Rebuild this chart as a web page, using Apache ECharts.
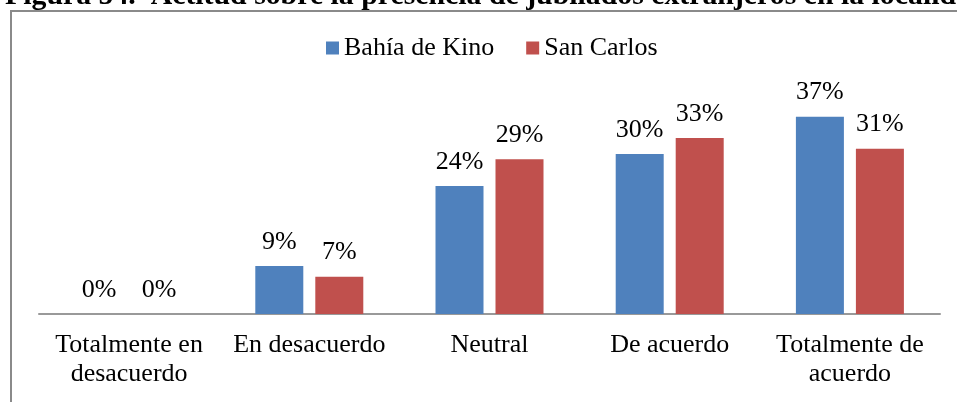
<!DOCTYPE html>
<html>
<head>
<meta charset="utf-8">
<script src="https://cdn.jsdelivr.net/npm/echarts@6/dist/echarts.min.js"></script>
<style>
  html, body { margin: 0; padding: 0; background: #fff; }
  #chart { width: 957px; height: 402px; }
</style>
</head>
<body>
<div id="chart"></div>
<script>
// Actitud sobre la presencia de jubilados extranjeros (porcentajes)
var categories = ['Totalmente en\ndesacuerdo', 'En desacuerdo', 'Neutral', 'De acuerdo', 'Totalmente de\nacuerdo'];
var bahiaKino = [0, 9, 24, 30, 37];
var sanCarlos = [0, 7, 29, 33, 31];
var seriesNames = ['Bahía de Kino', 'San Carlos'];
var titleText = 'Figura 54.  Actitud sobre la presencia de jubilados extranjeros en la localidad';

var serif = '"Liberation Serif", "Times New Roman", serif';
var fs = 26;
var chart = echarts.init(document.getElementById('chart'), null, { renderer: 'canvas' });

function barSeries(name, data, color) {
  return {
    name: name,
    type: 'bar',
    data: data,
    barWidth: 48,
    barGap: '25%',
    itemStyle: { color: color },
    label: {
      show: true,
      position: 'top',
      distance: 11,
      formatter: '{c}%',
      color: '#000',
      fontFamily: serif,
      fontSize: fs
    }
  };
}

chart.setOption({
  animation: false,
  title: {
    text: titleText,
    left: 5,
    top: -19,
    padding: 0,
    textStyle: { fontFamily: serif, fontSize: 29.8, fontWeight: 'bold', color: '#000' }
  },
  graphic: [{
    type: 'rect',
    shape: { x: 11, y: 11, width: 1200, height: 800 },
    style: { fill: 'none', stroke: '#8a8a8a', lineWidth: 2 },
    silent: true
  }],
  legend: {
    data: seriesNames,
    left: 326,
    top: 35,
    padding: 0,
    itemWidth: 13,
    itemHeight: 13,
    itemGap: 32,
    icon: 'rect',
    textStyle: { fontFamily: serif, fontSize: fs, color: '#000' }
  },
  grid: { left: 39, right: 17, top: 100.67, bottom: 88, containLabel: false },
  xAxis: {
    type: 'category',
    data: categories,
    axisLine: { lineStyle: { color: '#999', width: 2 } },
    axisTick: { show: false },
    axisLabel: {
      interval: 0,
      margin: 17,
      color: '#000',
      fontFamily: serif,
      fontSize: fs,
      lineHeight: 29
    }
  },
  yAxis: {
    type: 'value',
    min: 0,
    max: 40,
    show: false,
    splitLine: { show: false }
  },
  series: [
    barSeries(seriesNames[0], bahiaKino, '#4F81BD'),
    barSeries(seriesNames[1], sanCarlos, '#C0504D')
  ]
});
</script>
</body>
</html>
